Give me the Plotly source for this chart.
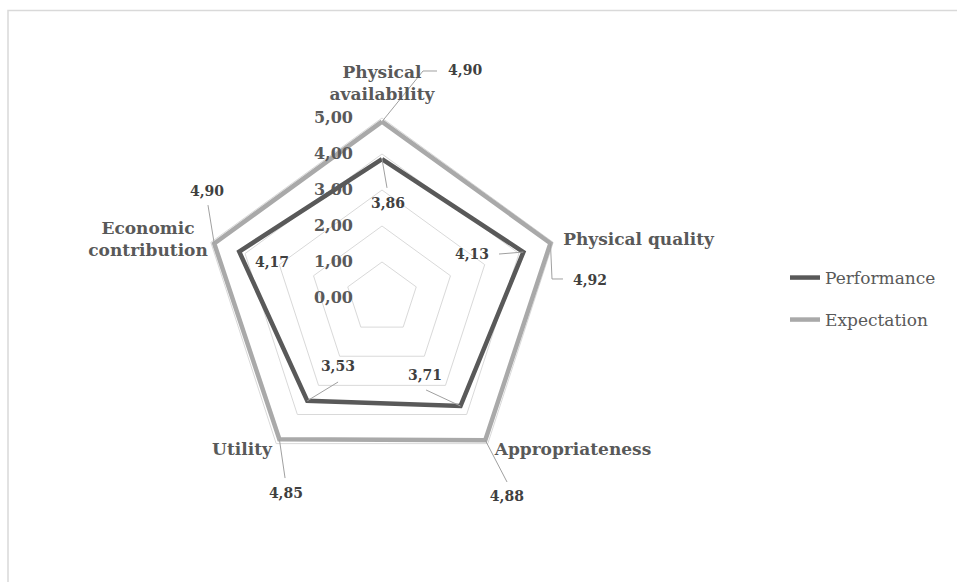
import plotly.graph_objects as go

# ---------------- data ----------------
categories = ["Physical availability", "Physical quality", "Appropriateness",
              "Utility", "Economic contribution"]
cat_display = ["Physical<br>availability", "Physical quality", "Appropriateness",
               "Utility", "Economic<br>contribution"]
cat_theta = [0, 72, 144, 216, 288]          # angular position of each category (deg, clockwise from top)
performance = [3.86, 4.13, 3.71, 3.53, 4.17]
expectation = [4.90, 4.92, 4.88, 4.85, 4.90]
radial_ticks = [0, 1, 2, 3, 4, 5]

# ---------------- label placement (polar r, theta) ----------------
perf_label_r = [2.589, 2.771, 2.498, 2.297, 3.206]
perf_label_t = [3.7, 64.5, 151.4, 212.2, 287.65]
exp_label_r = [6.69, 5.795, 6.528, 6.087, 5.683]
exp_label_t = [20.2, 85.6, 147.9, 206.0, 301.2]
cat_label_r = [5.917, 7.299, 6.797, 5.761, 6.69]
cat_label_t = [0, 77.47, 128.7, 222.46, 283.7]

# leader-line bend points (each list: points after the data vertex)
perf_leaders = {0: [(3.062, 2.6)], 1: [(3.472, 69.4)], 2: [(2.833, 154.4)], 3: [(2.634, 207.6)]}
exp_leaders = {0: [(6.408, 10.24), (6.488, 13.62)], 1: [(4.752, 83.62), (5.055, 84.0)],
               2: [(6.179, 145.8)], 3: [(5.68, 208.3)], 4: [(5.48, 298.1)]}

FONT = "DejaVu Serif"
DARK = "#595959"
LIGHT = "#a9a9a9"
RMAX = 7.5


def fmt(v):
    return f"{v:.2f}".replace(".", ",")


fig = go.Figure()

# main series on the category polar (gives pentagonal gridlines)
fig.add_trace(go.Scatterpolar(
    r=performance + performance[:1], theta=categories + categories[:1], mode="lines",
    name="Performance", line=dict(color=DARK, width=4.5), legend="legend", subplot="polar"))
fig.add_trace(go.Scatterpolar(
    r=expectation + expectation[:1], theta=categories + categories[:1], mode="lines",
    name="Expectation", line=dict(color=LIGHT, width=4.5), legend="legend2", subplot="polar"))

# leader lines (overlay polar with linear angular axis)
lr, lt = [], []
for vals, leaders in ((performance, perf_leaders), (expectation, exp_leaders)):
    for i, pts in leaders.items():
        lr.append(vals[i]); lt.append(cat_theta[i])
        for r, t in pts:
            lr.append(r); lt.append(t)
        lr.append(None); lt.append(None)
fig.add_trace(go.Scatterpolar(r=lr, theta=lt, mode="lines", connectgaps=False,
                              line=dict(color="#a0a0a0", width=1), subplot="polar2",
                              showlegend=False, hoverinfo="skip", cliponaxis=False))

# data labels
fig.add_trace(go.Scatterpolar(
    r=perf_label_r + exp_label_r, theta=perf_label_t + exp_label_t, mode="text",
    text=[fmt(v) for v in performance + expectation], textposition="middle center",
    textfont=dict(family=FONT, size=14, color="#404040", weight="bold"), subplot="polar2",
    showlegend=False, hoverinfo="skip", cliponaxis=False))

# category labels
fig.add_trace(go.Scatterpolar(
    r=cat_label_r, theta=cat_label_t, mode="text", text=cat_display,
    textposition="middle center", subplot="polar2",
    textfont=dict(family=FONT, size=17, color=DARK, weight="bold"),
    showlegend=False, hoverinfo="skip", cliponaxis=False))

W, H = 957, 582
cx, cy, R = 382, 298, 270   # R corresponds to the radial range max
dom = dict(x=[(cx - R) / W, (cx + R) / W], y=[1 - (cy + R) / H, 1 - (cy - R) / H])
fig.update_layout(
    width=W, height=H, margin=dict(l=0, r=0, t=0, b=0),
    paper_bgcolor="white", plot_bgcolor="white",
    font=dict(family=FONT, color=DARK),
    separators=",.",
    polar=dict(
        domain=dom, bgcolor="rgba(0,0,0,0)", gridshape="linear",
        radialaxis=dict(range=[0, RMAX], tickvals=radial_ticks, tickformat=".2f",
                        angle=90, side="counterclockwise", tickangle=90,
                        showline=False, showgrid=True, gridcolor="#d9d9d9", gridwidth=1.3,
                        ticks="outside", ticklen=23, tickcolor="rgba(0,0,0,0)",
                        tickfont=dict(family=FONT, size=16, color=DARK, weight="bold")),
        angularaxis=dict(type="category", categoryarray=categories, direction="clockwise",
                         rotation=90, showticklabels=False, showgrid=False,
                         showline=False, ticks=""),
    ),
    polar2=dict(
        domain=dom, bgcolor="rgba(0,0,0,0)",
        radialaxis=dict(range=[0, RMAX], visible=False, showgrid=False),
        angularaxis=dict(type="linear", direction="clockwise", rotation=90,
                         visible=False, showgrid=False, showline=False),
    ),
    legend=dict(x=785 / W, y=1 - 278 / H, xanchor="left", yanchor="middle",
                font=dict(family=FONT, size=17, color=DARK), bgcolor="rgba(0,0,0,0)"),
    legend2=dict(x=785 / W, y=1 - 320 / H, xanchor="left", yanchor="middle",
                 font=dict(family=FONT, size=17, color=DARK), bgcolor="rgba(0,0,0,0)"),
    shapes=[dict(type="rect", xref="paper", yref="paper", x0=8 / W, x1=1.05,
                 y0=-0.05, y1=1 - 10.5 / H, line=dict(color="#d9d9d9", width=1.5))],
)

fig.write_html("out.html")
